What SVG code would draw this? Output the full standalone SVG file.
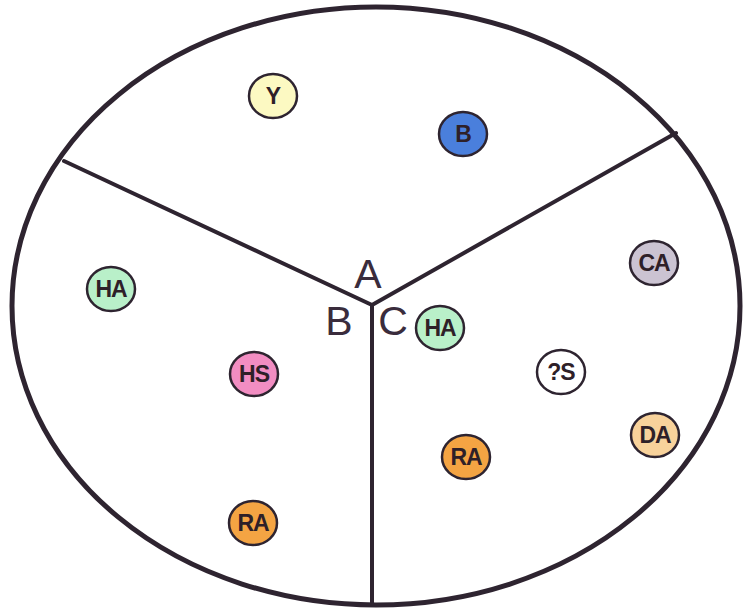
<svg xmlns="http://www.w3.org/2000/svg" width="743" height="614" viewBox="0 0 743 614">
<style>
.outline{fill:#fff;stroke:#2e2430;stroke-width:5}
.div{stroke:#2e2430;stroke-width:4;fill:none;stroke-linecap:round}
.n ellipse{stroke:#2e2430;stroke-width:2.5}
.n text{font-family:"Liberation Sans",Arial,sans-serif;font-weight:bold;font-size:23px;letter-spacing:-1px;fill:#2e2028;text-anchor:middle;dominant-baseline:central}
.lbl{font-family:"Liberation Sans",Arial,sans-serif;font-size:41px;fill:#3a2c3c;text-anchor:middle}
</style>
<rect width="743" height="614" fill="#fff"/>
<ellipse class="outline" cx="376" cy="306" rx="364" ry="299"/>
<g id="connectors">
<line class="div" x1="372" y1="305" x2="64" y2="161"/>
<line class="div" x1="372" y1="305" x2="676" y2="133"/>
<line class="div" x1="372" y1="305" x2="372" y2="604"/>
</g>
<g id="labels">
<text class="lbl" x="368" y="288">A</text>
<text class="lbl" x="339" y="335">B</text>
<text class="lbl" x="393" y="335">C</text>
</g>
<g id="Y" class="n"><ellipse cx="273" cy="96" rx="24" ry="22" fill="#fcf9c2"/><text x="273" y="96">Y</text></g>
<g id="B" class="n"><ellipse cx="463" cy="134" rx="24" ry="22" fill="#4a7fdc"/><text x="463" y="134">B</text></g>
<g id="HA1" class="n"><ellipse cx="111" cy="289" rx="24" ry="22" fill="#b9f0c9"/><text x="111" y="289">HA</text></g>
<g id="HS" class="n"><ellipse cx="254" cy="374" rx="24" ry="22" fill="#f28dc2"/><text x="254" y="374">HS</text></g>
<g id="RA1" class="n"><ellipse cx="253" cy="523" rx="24" ry="22" fill="#f4a443"/><text x="253" y="523">RA</text></g>
<g id="HA2" class="n"><ellipse cx="440" cy="328" rx="24" ry="22" fill="#b9f0c9"/><text x="440" y="328">HA</text></g>
<g id="CA" class="n"><ellipse cx="654" cy="263" rx="24" ry="22" fill="#cbc3d2"/><text x="654" y="263">CA</text></g>
<g id="QS" class="n"><ellipse cx="561" cy="372" rx="24" ry="22" fill="#ffffff"/><text x="561" y="372">?S</text></g>
<g id="DA" class="n"><ellipse cx="655" cy="435" rx="24" ry="22" fill="#f8d29b"/><text x="655" y="435">DA</text></g>
<g id="RA2" class="n"><ellipse cx="466" cy="457" rx="24" ry="22" fill="#f4a443"/><text x="466" y="457">RA</text></g>
</svg>
